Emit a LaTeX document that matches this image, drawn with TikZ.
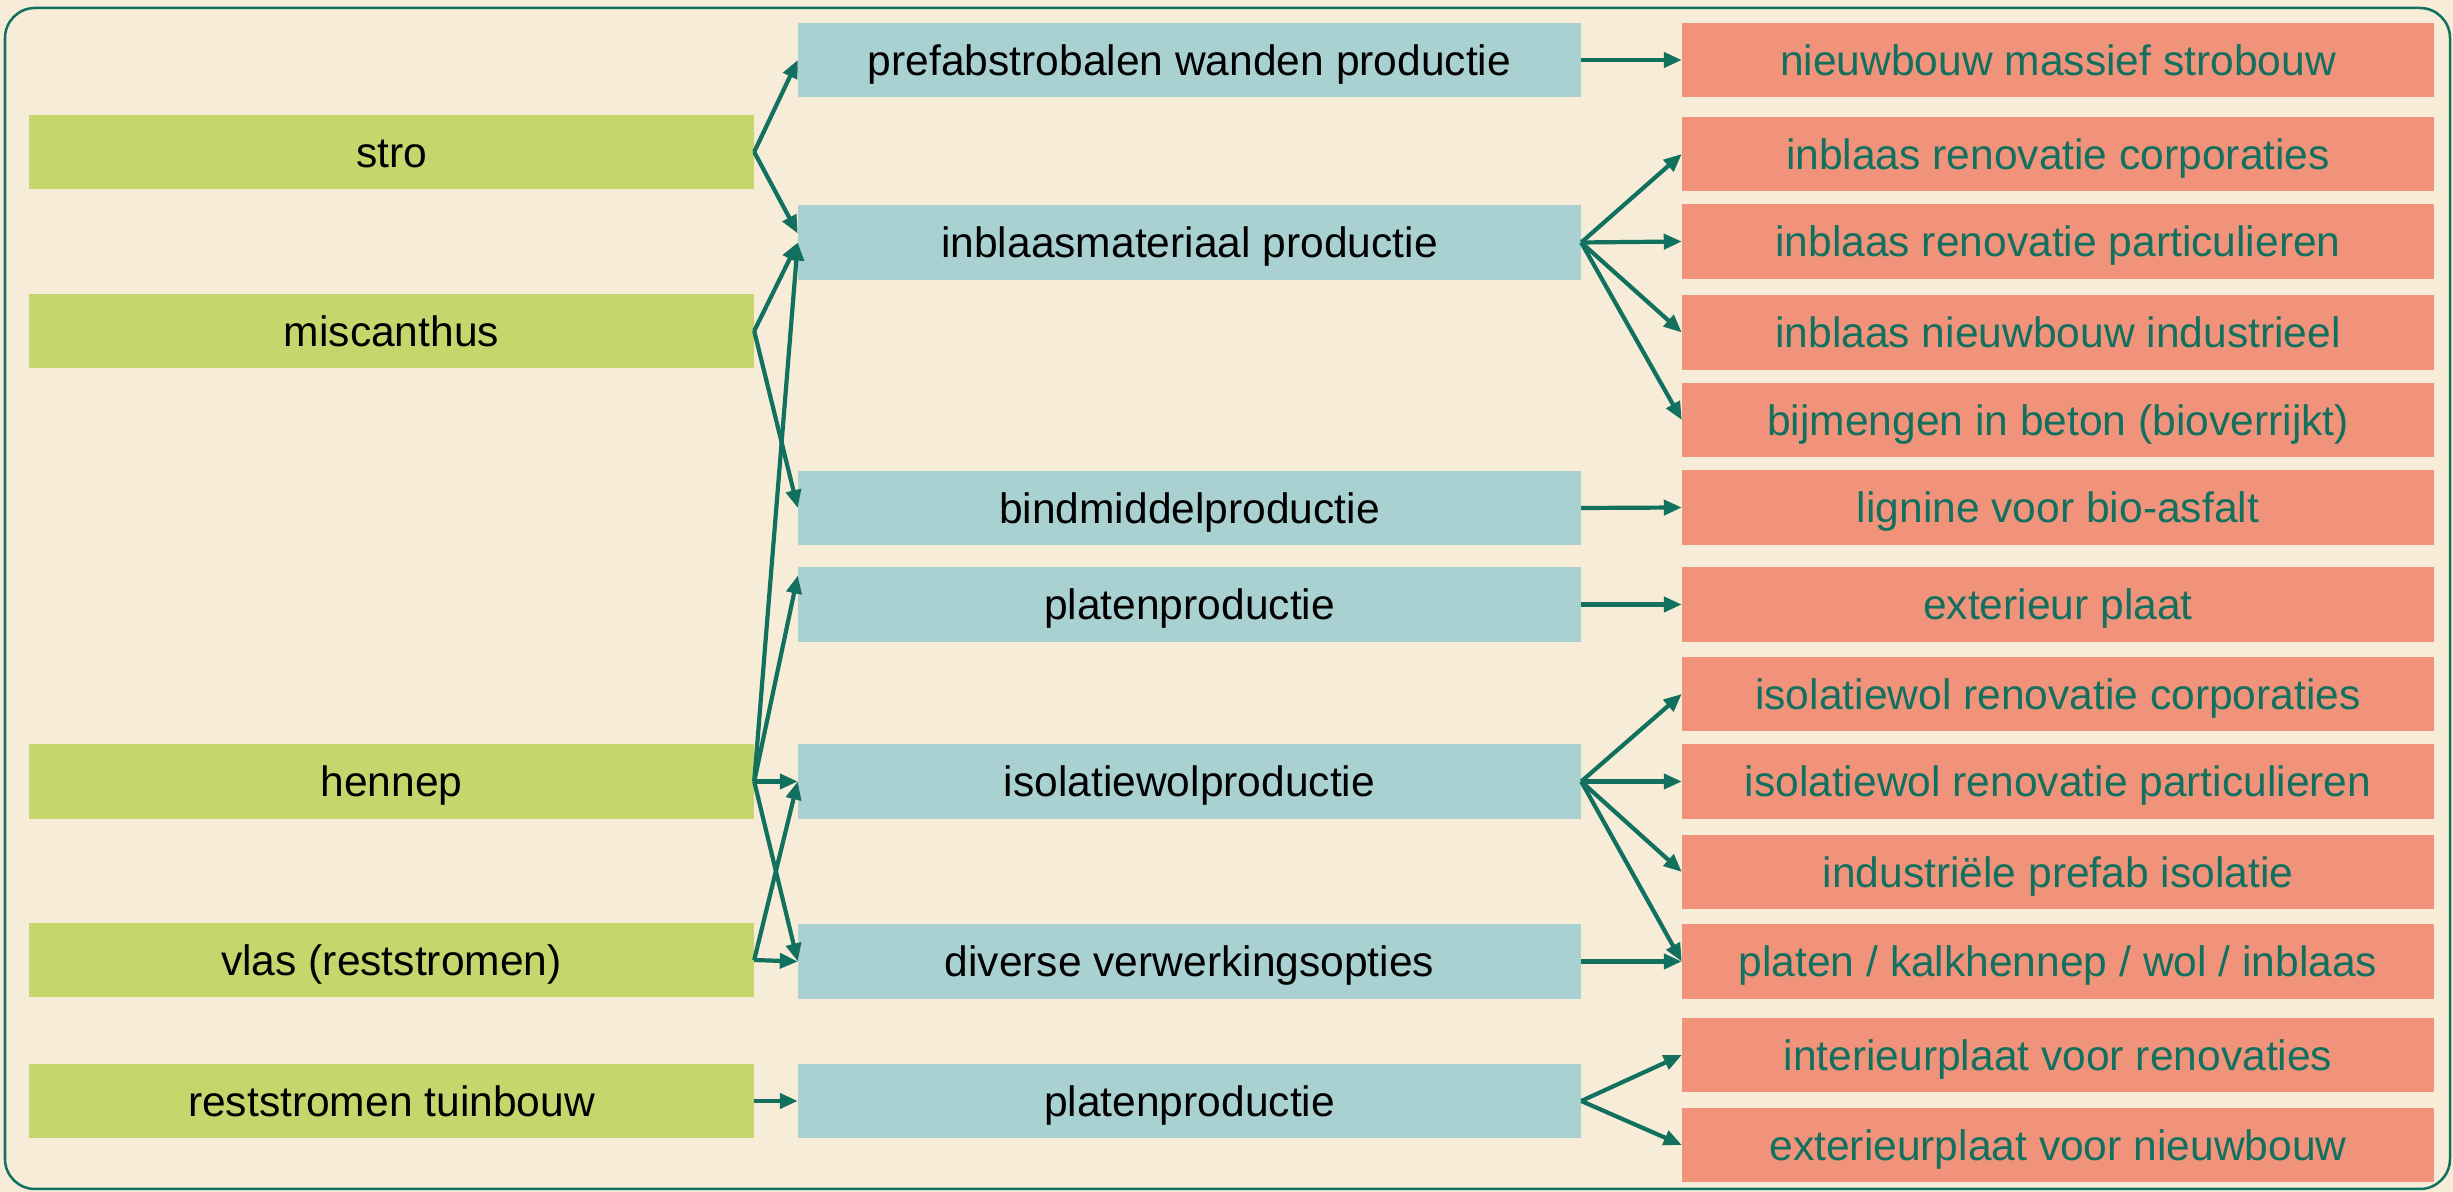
\documentclass[tikz,border=0pt]{standalone}
\usepackage{fontspec}
\setmainfont{Liberation Sans}
\usetikzlibrary{arrows.meta}
\definecolor{bg}{HTML}{F6ECD7}
\definecolor{gfill}{HTML}{C6D66D}
\definecolor{bfill}{HTML}{A9D1D2}
\definecolor{sfill}{HTML}{F1937A}
\definecolor{dteal}{HTML}{12705F}
\tikzset{
  box/.style={inner sep=0pt, outer sep=0pt, minimum height=0.74cm, text height=8.7pt, text depth=0pt, font=\fontsize{12.1}{14}\selectfont, anchor=center},
  gbox/.style={box, fill=gfill, minimum width=7.25cm, text=black},
  bbox/.style={box, fill=bfill, minimum width=7.83cm, text=black},
  sbox/.style={box, fill=sfill, minimum width=7.52cm, text=dteal},
  arr/.style={draw=dteal, line width=0.042cm, -{Triangle[length=0.18cm, width=0.15cm]}},
}
\begin{document}
\begin{tikzpicture}[x=0.01cm, y=-0.01cm]
\fill[bg] (0,0) rectangle (2453,1192);
\useasboundingbox (0,0) rectangle (2453,1192);
\draw[dteal, line width=0.025cm, rounded corners=0.3cm] (5,8) rectangle (2450,1189);

% green
\node[gbox] (stro) at (391.5,152) {stro};
\node[gbox] (misc) at (391.5,331) {miscanthus};
\node[gbox] (hen) at (391.5,781.5) {hennep};
\node[gbox] (vlas) at (391.5,960) {vlas (reststromen)};
\node[gbox] (rest) at (391.5,1101) {reststromen tuinbouw};

% middle
\node[bbox] (prefab) at (1189.5,60) {prefabstrobalen wanden productie};
\node[bbox] (inbl) at (1189.5,242.5) {inblaasmateriaal productie};
\node[bbox] (bind) at (1189.5,508) {bindmiddelproductie};
\node[bbox] (plat) at (1189.5,604.5) {platenproductie};
\node[bbox] (isol) at (1189.5,781.5) {isolatiewolproductie};
\node[bbox] (div) at (1189.5,961.5) {diverse verwerkingsopties};
\node[bbox] (plat2) at (1189.5,1101) {platenproductie};

% right
\node[sbox] (nieuw) at (2058,60) {nieuwbouw massief strobouw};
\node[sbox] (ibc) at (2058,154) {inblaas renovatie corporaties};
\node[sbox] (ibp) at (2058,241.5) {inblaas renovatie particulieren};
\node[sbox] (ibn) at (2058,332.5) {inblaas nieuwbouw industrieel};
\node[sbox] (bij) at (2058,420) {bijmengen in beton (bioverrijkt)};
\node[sbox] (lig) at (2058,507.5) {lignine voor bio-asfalt};
\node[sbox] (ext) at (2058,604.5) {exterieur plaat};
\node[sbox] (iwc) at (2058,694) {isolatiewol renovatie corporaties};
\node[sbox] (iwp) at (2058,781.5) {isolatiewol renovatie particulieren};
\node[sbox] (ind) at (2058,872) {industriële prefab isolatie};
\node[sbox] (pkw) at (2058,961.5) {platen / kalkhennep / wol / inblaas};
\node[sbox] (int) at (2058,1055) {interieurplaat voor renovaties};
\node[sbox] (exn) at (2058,1145) {exterieurplaat voor nieuwbouw};

% left connectors
\draw[arr] (stro.east) -- (prefab.west);
\draw[arr] (stro.east) -- ([yshift=0.09cm]inbl.west);
\draw[arr] (misc.east) -- (inbl.west);
\draw[arr] (misc.east) -- (bind.west);
\draw[arr] (hen.east) -- (inbl.west);
\draw[arr] (hen.east) -- ([yshift=0.29cm]plat.west);
\draw[arr] (hen.east) -- (isol.west);
\draw[arr] (hen.east) -- (div.west);
\draw[arr] (vlas.east) -- (isol.west);
\draw[arr] (vlas.east) -- (div.west);
\draw[arr] (rest.east) -- (plat2.west);

% right connectors
\draw[arr] (prefab.east) -- (nieuw.west);
\foreach \t in {ibc,ibp,ibn,bij} \draw[arr] (inbl.east) -- (\t.west);
\draw[arr] (bind.east) -- (lig.west);
\draw[arr] (plat.east) -- (ext.west);
\foreach \t in {iwc,iwp,ind,pkw} \draw[arr] (isol.east) -- (\t.west);
\draw[arr] (div.east) -- (pkw.west);
\foreach \t in {int,exn} \draw[arr] (plat2.east) -- (\t.west);
\end{tikzpicture}
\end{document}
